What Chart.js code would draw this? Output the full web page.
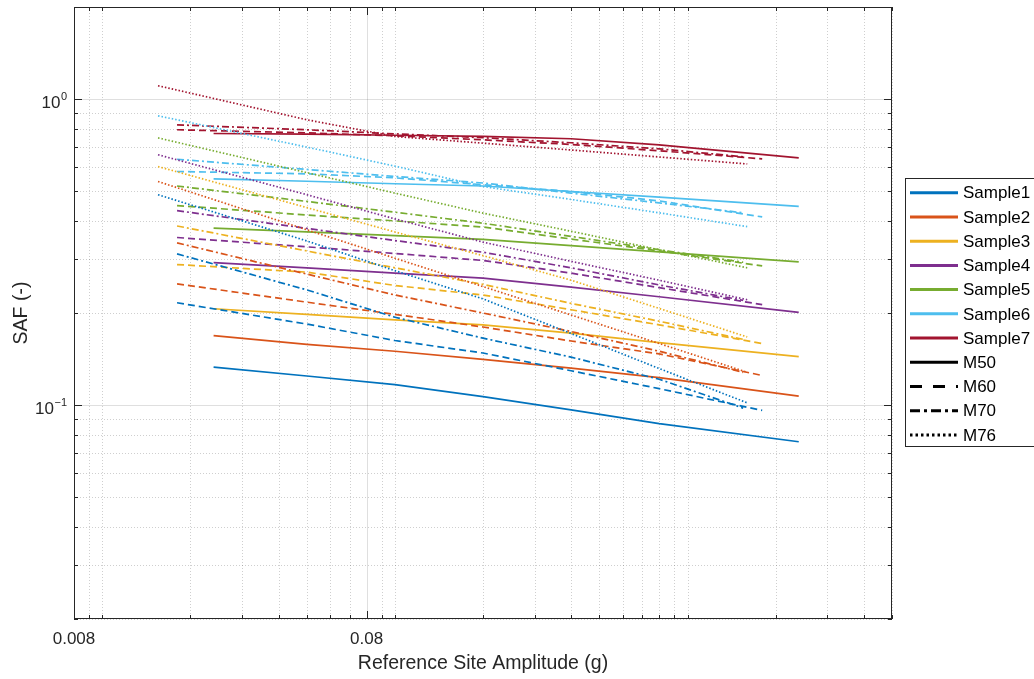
<!DOCTYPE html>
<html><head><meta charset="utf-8">
<script src="https://cdn.jsdelivr.net/npm/chart.js@4.4.1/dist/chart.umd.min.js"></script>
<style>html,body{margin:0;padding:0;background:#fff;}#wrap{width:1034px;height:679px;position:relative;}</style>
</head><body><div id="wrap"><canvas id="c" width="1034" height="679"></canvas></div>
<script>
const sampleNames = ['Sample1','Sample2','Sample3','Sample4','Sample5','Sample6','Sample7'];
const magnitudeNames = ['M50','M60','M70','M76'];
const sampleColors = ['#0072BD','#D95319','#EDB120','#7E2F8E','#77AC30','#4DBEEE','#A2142F'];

// reference site amplitude (g) per magnitude
const xM50 = [0.024, 0.05, 0.1, 0.2, 0.4, 0.8, 2.4];
const xM60 = [0.018, 0.05, 0.1, 0.2, 0.4, 0.8, 1.8];
const xM70 = [0.018, 0.05, 0.1, 0.2, 0.4, 0.8, 1.55];
const xM76 = [0.0155, 0.05, 0.1, 0.2, 0.4, 0.8, 1.6];

// SAF values
const s1M50 = [0.133, 0.1245, 0.1166, 0.1066, 0.0965, 0.0870, 0.0759];
const s1M60 = [0.216, 0.184, 0.1626, 0.148, 0.1295, 0.1132, 0.0961];
const s1M70 = [0.312, 0.238, 0.1937, 0.1655, 0.1435, 0.1215, 0.0978];
const s1M76 = [0.487, 0.344, 0.275, 0.2224, 0.1714, 0.1317, 0.1017];

const s2M50 = [0.1687, 0.158, 0.150, 0.141, 0.132, 0.123, 0.107];
const s2M60 = [0.249, 0.217, 0.198, 0.180, 0.162, 0.147, 0.125];
const s2M70 = [0.339, 0.268, 0.229, 0.200, 0.174, 0.150, 0.128];
const s2M76 = [0.538, 0.374, 0.302, 0.244, 0.197, 0.159, 0.128];

const s3M50 = [0.2065, 0.198, 0.190, 0.183, 0.172, 0.160, 0.144];
const s3M60 = [0.288, 0.272, 0.246, 0.229, 0.205, 0.183, 0.159];
const s3M70 = [0.385, 0.319, 0.281, 0.248, 0.215, 0.188, 0.164];
const s3M76 = [0.602, 0.442, 0.368, 0.308, 0.256, 0.207, 0.167];

const s4M50 = [0.292, 0.281, 0.270, 0.260, 0.243, 0.226, 0.201];
const s4M60 = [0.353, 0.329, 0.313, 0.297, 0.270, 0.242, 0.213];
const s4M70 = [0.432, 0.378, 0.345, 0.316, 0.281, 0.247, 0.220];
const s4M76 = [0.658, 0.487, 0.406, 0.341, 0.295, 0.256, 0.221];

const s5M50 = [0.379, 0.368, 0.358, 0.348, 0.332, 0.317, 0.294];
const s5M60 = [0.449, 0.418, 0.400, 0.382, 0.349, 0.319, 0.285];
const s5M70 = [0.520, 0.463, 0.427, 0.393, 0.356, 0.322, 0.293];
const s5M76 = [0.747, 0.575, 0.493, 0.424, 0.370, 0.322, 0.281];

const s6M50 = [0.549, 0.539, 0.529, 0.520, 0.499, 0.478, 0.446];
const s6M60 = [0.580, 0.570, 0.553, 0.525, 0.499, 0.465, 0.412];
const s6M70 = [0.636, 0.589, 0.559, 0.532, 0.493, 0.458, 0.425];
const s6M76 = [0.882, 0.697, 0.604, 0.518, 0.470, 0.425, 0.383];

const s7M50 = [0.772, 0.768, 0.762, 0.756, 0.742, 0.709, 0.643];
const s7M60 = [0.794, 0.776, 0.759, 0.736, 0.711, 0.678, 0.638];
const s7M70 = [0.824, 0.794, 0.770, 0.748, 0.720, 0.688, 0.648];
const s7M76 = [1.106, 0.856, 0.755, 0.718, 0.682, 0.647, 0.614];

const xTickValues = [0.008,0.009,0.01,0.02,0.03,0.04,0.05,0.06,0.07,0.08,0.09,0.1,0.2,0.3,0.4,0.5,0.6,0.7,0.8,0.9,1,2,3,4,5];
const xMajorTicks = [0.008, 0.08];
const yTickValues = [0.02,0.03,0.04,0.05,0.06,0.07,0.08,0.09,0.1,0.2,0.3,0.4,0.5,0.6,0.7,0.8,0.9,1,2];
const yMajorTicks = [0.1, 1];
const yMajorExponents = ['\u22121', '0'];
const xTitle = 'Reference Site Amplitude (g)';
const yTitle = 'SAF (-)';

const seriesTable = [
  [s1M50, s1M60, s1M70, s1M76],
  [s2M50, s2M60, s2M70, s2M76],
  [s3M50, s3M60, s3M70, s3M76],
  [s4M50, s4M60, s4M70, s4M76],
  [s5M50, s5M60, s5M70, s5M76],
  [s6M50, s6M60, s6M70, s6M76],
  [s7M50, s7M60, s7M70, s7M76]
];
const xByMag = [xM50, xM60, xM70, xM76];
const dashByMag = [[], [7, 4], [7, 3, 2, 3], [1.5, 2]];
const legendDash = [[], [12, 11], [10, 4, 3, 4], [2.5, 3]];

const FONT = "'Liberation Sans', Arial, Helvetica, sans-serif";
const AXIS_COLOR = '#262626';

const datasets = [];
seriesTable.forEach((mags, s) => {
  mags.forEach((vals, m) => {
    datasets.push({
      label: sampleNames[s] + ' ' + magnitudeNames[m],
      data: xByMag[m].map((x, i) => ({x: x, y: vals[i]})),
      borderColor: sampleColors[s],
      borderWidth: 1.7,
      borderDash: dashByMag[m],
      pointRadius: 0,
      fill: false,
      tension: 0
    });
  });
});

const decor = {
  id: 'decor',
  beforeDatasetsDraw(chart) {
    const {ctx, chartArea: a, scales: {x, y}} = chart;
    ctx.save();
    ctx.lineWidth = 1;
    xTickValues.forEach(v => {
      const px = Math.round(x.getPixelForValue(v)) + 0.5;
      const major = xMajorTicks.includes(v);
      ctx.strokeStyle = major ? 'rgba(38,38,38,0.15)' : 'rgba(38,38,38,0.22)';
      ctx.setLineDash(major ? [] : [1, 2]);
      ctx.beginPath(); ctx.moveTo(px, a.top); ctx.lineTo(px, a.bottom); ctx.stroke();
    });
    yTickValues.forEach(v => {
      const py = Math.round(y.getPixelForValue(v)) + 0.5;
      const major = yMajorTicks.includes(v);
      ctx.strokeStyle = major ? 'rgba(38,38,38,0.15)' : 'rgba(38,38,38,0.22)';
      ctx.setLineDash(major ? [] : [1, 2]);
      ctx.beginPath(); ctx.moveTo(a.left, py); ctx.lineTo(a.right, py); ctx.stroke();
    });
    ctx.restore();
  },
  afterDraw(chart) {
    const {ctx, chartArea: a, scales: {x, y}} = chart;
    ctx.save();
    ctx.setLineDash([]);
    ctx.strokeStyle = AXIS_COLOR;
    ctx.lineWidth = 1;
    // ticks (inward, all four sides)
    xTickValues.forEach(v => {
      const px = Math.round(x.getPixelForValue(v)) + 0.5;
      const len = xMajorTicks.includes(v) ? 8 : 4;
      ctx.beginPath();
      ctx.moveTo(px, a.bottom); ctx.lineTo(px, a.bottom - len);
      ctx.moveTo(px, a.top); ctx.lineTo(px, a.top + len);
      ctx.stroke();
    });
    yTickValues.forEach(v => {
      const py = Math.round(y.getPixelForValue(v)) + 0.5;
      const len = yMajorTicks.includes(v) ? 8 : 4;
      ctx.beginPath();
      ctx.moveTo(a.left, py); ctx.lineTo(a.left + len, py);
      ctx.moveTo(a.right, py); ctx.lineTo(a.right - len, py);
      ctx.stroke();
    });
    // box
    ctx.strokeRect(Math.round(a.left) + 0.5, Math.round(a.top) + 0.5, Math.round(a.right - a.left) - 1, Math.round(a.bottom - a.top) - 1);

    // y tick labels 10^n
    ctx.fillStyle = AXIS_COLOR;
    ctx.textBaseline = 'alphabetic';
    ctx.textAlign = 'right';
    yMajorTicks.forEach((v, i) => {
      const py = y.getPixelForValue(v);
      ctx.font = '11px ' + FONT;
      const ex = yMajorExponents[i];
      const w = ctx.measureText(ex).width;
      ctx.fillText(ex, 67, py + 1);
      ctx.font = '17px ' + FONT;
      ctx.fillText('10', 67 - w - 0.5, py + 9);
    });

    // axis titles
    ctx.font = '19.5px ' + FONT;
    ctx.textAlign = 'center';
    ctx.fillText(xTitle, (a.left + a.right) / 2, 669);
    ctx.save();
    ctx.translate(27, (a.top + a.bottom) / 2);
    ctx.rotate(-Math.PI / 2);
    ctx.fillText(yTitle, 0, 0);
    ctx.restore();

    // legend
    const lx = 905.5, ly = 178.5;
    ctx.fillStyle = '#fff';
    ctx.fillRect(lx, ly, 140, 268);
    ctx.strokeStyle = AXIS_COLOR;
    ctx.lineWidth = 1;
    ctx.strokeRect(lx, ly, 140, 268);
    const entries = sampleNames.map((n, i) => ({text: n, color: sampleColors[i], dash: []}))
      .concat(magnitudeNames.map((n, i) => ({text: n, color: '#000', dash: legendDash[i]})));
    ctx.font = '17px ' + FONT;
    ctx.textAlign = 'left';
    ctx.textBaseline = 'middle';
    entries.forEach((e, i) => {
      const ry = 192.7 + 24.23 * i;
      ctx.strokeStyle = e.color;
      ctx.lineWidth = 3;
      ctx.setLineDash(e.dash);
      ctx.beginPath(); ctx.moveTo(910, ry); ctx.lineTo(958, ry); ctx.stroke();
      ctx.setLineDash([]);
      ctx.fillStyle = '#000';
      ctx.fillText(e.text, 963, ry + 1);
    });
    ctx.restore();
  }
};

new Chart(document.getElementById('c'), {
  type: 'line',
  data: {datasets: datasets},
  options: {
    responsive: false,
    animation: false,
    devicePixelRatio: 1,
    layout: {padding: {left: 0, right: 142, top: 7, bottom: 0}},
    plugins: {legend: {display: false}, tooltip: {enabled: false}},
    scales: {
      x: {
        type: 'logarithmic', min: 0.008, max: 5, position: 'bottom',
        afterBuildTicks: s => { s.ticks = xTickValues.map(v => ({value: v})); },
        afterFit: s => { s.height = 60; },
        grid: {display: false}, border: {display: false},
        ticks: {
          autoSkip: false, maxRotation: 0, minRotation: 0, padding: 2,
          color: AXIS_COLOR, font: {family: FONT, size: 17},
          callback: v => xMajorTicks.includes(v) ? String(v) : ''
        }
      },
      y: {
        type: 'logarithmic', min: 0.02, max: 2,
        afterBuildTicks: s => { s.ticks = yTickValues.map(v => ({value: v})); },
        afterFit: s => { s.width = 74; },
        grid: {display: false}, border: {display: false},
        ticks: {display: false}
      }
    }
  },
  plugins: [decor]
});
</script>
</body></html>
